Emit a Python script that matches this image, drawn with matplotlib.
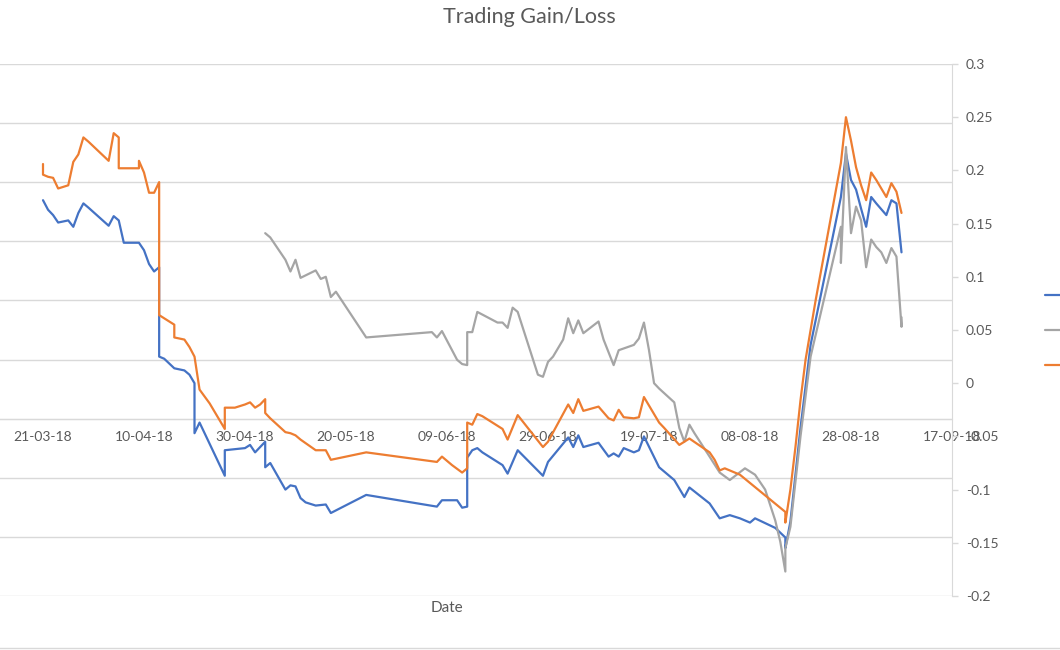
import matplotlib
matplotlib.use("Agg")
import matplotlib.pyplot as plt
import matplotlib.dates as mdates
from matplotlib.lines import Line2D
from matplotlib.ticker import FuncFormatter
import pandas as pd

plt.rcParams["font.family"] = ["Lato", "DejaVu Sans"]

# --- data (secondary / right axis values) ---
blue_dates = [
	"2018-03-21", "2018-03-22", "2018-03-23", "2018-03-24", "2018-03-26", "2018-03-27", "2018-03-28",
	"2018-03-29", "2018-03-30", "2018-04-03", "2018-04-04", "2018-04-05", "2018-04-06", "2018-04-09",
	"2018-04-10", "2018-04-11", "2018-04-12", "2018-04-13", "2018-04-13", "2018-04-14", "2018-04-16",
	"2018-04-18", "2018-04-19", "2018-04-20", "2018-04-20", "2018-04-21", "2018-04-26", "2018-04-26",
	"2018-04-30", "2018-05-01", "2018-05-02", "2018-05-03", "2018-05-04", "2018-05-04", "2018-05-05",
	"2018-05-08", "2018-05-09", "2018-05-10", "2018-05-11", "2018-05-12", "2018-05-14", "2018-05-16",
	"2018-05-17", "2018-05-24", "2018-06-07", "2018-06-08", "2018-06-11", "2018-06-12", "2018-06-13",
	"2018-06-13", "2018-06-14", "2018-06-15", "2018-06-16", "2018-06-20", "2018-06-21", "2018-06-23",
	"2018-06-28", "2018-06-29", "2018-07-03", "2018-07-04", "2018-07-05", "2018-07-06", "2018-07-09",
	"2018-07-11", "2018-07-12", "2018-07-13", "2018-07-14", "2018-07-16", "2018-07-17", "2018-07-18",
	"2018-07-21", "2018-07-24", "2018-07-26", "2018-07-27", "2018-07-31", "2018-08-02", "2018-08-04",
	"2018-08-06", "2018-08-08", "2018-08-09", "2018-08-13", "2018-08-15", "2018-08-15", "2018-08-16",
	"2018-08-18", "2018-08-20", "2018-08-26", "2018-08-27", "2018-08-28", "2018-08-29", "2018-08-30",
	"2018-08-31", "2018-09-01", "2018-09-02", "2018-09-04", "2018-09-05", "2018-09-06", "2018-09-07",
]
blue_values = [
	0.172, 0.163, 0.158, 0.151, 0.153, 0.147, 0.160,
	0.169, 0.165, 0.148, 0.157, 0.153, 0.132, 0.132,
	0.125, 0.112, 0.105, 0.109, 0.025, 0.023, 0.014,
	0.012, 0.008, 0.000, -0.047, -0.037, -0.087, -0.063,
	-0.061, -0.058, -0.065, -0.060, -0.055, -0.079, -0.075,
	-0.100, -0.096, -0.097, -0.108, -0.112, -0.115, -0.114,
	-0.122, -0.105, -0.116, -0.110, -0.110, -0.117, -0.116,
	-0.070, -0.063, -0.061, -0.065, -0.077, -0.085, -0.063,
	-0.087, -0.074, -0.051, -0.060, -0.049, -0.060, -0.056,
	-0.069, -0.066, -0.069, -0.061, -0.065, -0.063, -0.050,
	-0.079, -0.091, -0.107, -0.098, -0.113, -0.127, -0.124,
	-0.127, -0.131, -0.127, -0.136, -0.145, -0.155, -0.130,
	-0.042, 0.036, 0.175, 0.216, 0.191, 0.182, 0.164,
	0.147, 0.175, 0.169, 0.158, 0.172, 0.169, 0.123,
]

gray_dates = [
	"2018-05-04", "2018-05-05", "2018-05-08", "2018-05-09", "2018-05-10", "2018-05-11", "2018-05-14",
	"2018-05-15", "2018-05-16", "2018-05-17", "2018-05-18", "2018-05-24", "2018-06-06", "2018-06-07",
	"2018-06-08", "2018-06-11", "2018-06-12", "2018-06-13", "2018-06-13", "2018-06-14", "2018-06-15",
	"2018-06-19", "2018-06-20", "2018-06-21", "2018-06-22", "2018-06-23", "2018-06-27", "2018-06-28",
	"2018-06-29", "2018-06-30", "2018-07-02", "2018-07-03", "2018-07-04", "2018-07-05", "2018-07-06",
	"2018-07-09", "2018-07-10", "2018-07-11", "2018-07-12", "2018-07-13", "2018-07-16", "2018-07-17",
	"2018-07-18", "2018-07-19", "2018-07-20", "2018-07-21", "2018-07-24", "2018-07-25", "2018-07-26",
	"2018-07-27", "2018-07-28", "2018-07-31", "2018-08-02", "2018-08-04", "2018-08-07", "2018-08-09",
	"2018-08-11", "2018-08-13", "2018-08-14", "2018-08-15", "2018-08-15", "2018-08-16", "2018-08-18",
	"2018-08-20", "2018-08-26", "2018-08-26", "2018-08-27", "2018-08-28", "2018-08-29", "2018-08-30",
	"2018-08-31", "2018-09-01", "2018-09-02", "2018-09-03", "2018-09-04", "2018-09-05", "2018-09-06",
	"2018-09-07", "2018-09-07",
]
gray_values = [
	0.141, 0.137, 0.116, 0.105, 0.116, 0.099, 0.106,
	0.098, 0.100, 0.081, 0.086, 0.043, 0.048, 0.043,
	0.049, 0.022, 0.018, 0.017, 0.048, 0.048, 0.067,
	0.057, 0.057, 0.052, 0.071, 0.067, 0.008, 0.006,
	0.020, 0.025, 0.041, 0.061, 0.047, 0.059, 0.047,
	0.058, 0.041, 0.029, 0.017, 0.031, 0.036, 0.042,
	0.057, 0.031, 0.000, -0.005, -0.018, -0.042, -0.055,
	-0.039, -0.047, -0.069, -0.084, -0.091, -0.080, -0.086,
	-0.100, -0.129, -0.149, -0.177, -0.155, -0.135, -0.050,
	0.025, 0.147, 0.113, 0.222, 0.141, 0.166, 0.153,
	0.109, 0.135, 0.128, 0.123, 0.113, 0.127, 0.119,
	0.053, 0.062,
]

orange_dates = [
	"2018-03-21", "2018-03-21", "2018-03-22", "2018-03-23", "2018-03-24", "2018-03-26", "2018-03-27",
	"2018-03-28", "2018-03-29", "2018-03-30", "2018-04-03", "2018-04-04", "2018-04-05", "2018-04-05",
	"2018-04-09", "2018-04-09", "2018-04-10", "2018-04-11", "2018-04-12", "2018-04-13", "2018-04-13",
	"2018-04-16", "2018-04-16", "2018-04-18", "2018-04-19", "2018-04-20", "2018-04-21", "2018-04-23",
	"2018-04-26", "2018-04-26", "2018-04-28", "2018-04-30", "2018-05-01", "2018-05-02", "2018-05-03",
	"2018-05-04", "2018-05-04", "2018-05-05", "2018-05-08", "2018-05-09", "2018-05-10", "2018-05-11",
	"2018-05-14", "2018-05-16", "2018-05-17", "2018-05-24", "2018-06-07", "2018-06-08", "2018-06-10",
	"2018-06-12", "2018-06-13", "2018-06-13", "2018-06-14", "2018-06-15", "2018-06-16", "2018-06-20",
	"2018-06-21", "2018-06-23", "2018-06-28", "2018-06-29", "2018-07-03", "2018-07-04", "2018-07-05",
	"2018-07-06", "2018-07-09", "2018-07-11", "2018-07-12", "2018-07-13", "2018-07-14", "2018-07-16",
	"2018-07-17", "2018-07-18", "2018-07-21", "2018-07-22", "2018-07-25", "2018-07-27", "2018-07-31",
	"2018-08-01", "2018-08-02", "2018-08-03", "2018-08-06", "2018-08-15", "2018-08-15", "2018-08-16",
	"2018-08-17", "2018-08-18", "2018-08-19", "2018-08-21", "2018-08-26", "2018-08-27", "2018-08-28",
	"2018-08-29", "2018-08-30", "2018-08-31", "2018-09-01", "2018-09-02", "2018-09-04", "2018-09-05",
	"2018-09-06", "2018-09-07",
]
orange_values = [
	0.206, 0.196, 0.194, 0.193, 0.183, 0.186, 0.208,
	0.215, 0.231, 0.227, 0.209, 0.235, 0.231, 0.202,
	0.202, 0.209, 0.198, 0.179, 0.179, 0.189, 0.064,
	0.055, 0.043, 0.041, 0.034, 0.025, -0.006, -0.019,
	-0.043, -0.023, -0.023, -0.020, -0.018, -0.023, -0.020,
	-0.015, -0.028, -0.033, -0.046, -0.047, -0.049, -0.053,
	-0.063, -0.063, -0.072, -0.065, -0.074, -0.069, -0.077,
	-0.084, -0.080, -0.037, -0.039, -0.029, -0.031, -0.043,
	-0.053, -0.030, -0.060, -0.055, -0.020, -0.028, -0.015,
	-0.026, -0.022, -0.033, -0.035, -0.025, -0.032, -0.033,
	-0.032, -0.013, -0.037, -0.042, -0.058, -0.052, -0.065,
	-0.072, -0.082, -0.080, -0.086, -0.121, -0.131, -0.100,
	-0.060, -0.016, 0.022, 0.078, 0.207, 0.250, 0.228,
	0.203, 0.186, 0.172, 0.198, 0.191, 0.175, 0.188,
	0.180, 0.160,
]

x_start = "2018-03-01"
x_end = "2018-09-17"
first_label = "2018-03-21"
right_ticks = [-0.2, -0.15, -0.1, -0.05, 0, 0.05, 0.1, 0.15, 0.2, 0.25, 0.3]
left_ticks = [-3, -2, -1, 0, 1, 2, 3, 4, 5, 6]

grid_col = "#D9D9D9"
text_col = "#595959"

fig = plt.figure(figsize=(10.6, 6.5), dpi=100)
# plot area runs past the left edge (the chart was cropped there)
ax = fig.add_axes([-58 / 1060, 54 / 650, 1010 / 1060, 532 / 650])
ax.set_xlim(pd.Timestamp(x_start), pd.Timestamp(x_end))
ax.set_ylim(left_ticks[0], left_ticks[-1])
ax.set_yticks(left_ticks)
ax.yaxis.grid(True, color=grid_col, linewidth=1.0)
ax.tick_params(axis="y", left=False, labelleft=False)
for side in ["top", "left", "right"]:
	ax.spines[side].set_visible(False)
ax.spines["bottom"].set_position(("data", 0))
ax.spines["bottom"].set_color(grid_col)
ax.set_xticks(pd.date_range(first_label, x_end, freq="20D"))
ax.xaxis.set_major_formatter(mdates.DateFormatter("%d-%m-%y"))
ax.tick_params(axis="x", length=0, pad=9, labelsize=10, labelcolor=text_col)
ax.set_xlabel("Date", fontsize=11, color=text_col)
ax.xaxis.set_label_coords(0.5, -0.01)

ax2 = ax.twinx()
ax2.set_ylim(right_ticks[0], right_ticks[-1])
ax2.set_yticks(right_ticks)
ax2.yaxis.set_major_formatter(FuncFormatter(lambda v, p: "0" if abs(v) < 1e-9 else f"{round(v, 2):g}"))
for side in ["top", "left", "bottom"]:
	ax2.spines[side].set_visible(False)
ax2.spines["right"].set_color(grid_col)
ax2.tick_params(axis="y", direction="out", length=4, width=1, color=grid_col,
	labelcolor=text_col, labelsize=10, pad=6)

series = [
	(blue_dates, blue_values, "#4472C4"),
	(gray_dates, gray_values, "#A5A5A5"),
	(orange_dates, orange_values, "#ED7D31"),
]
handles = []
for dates, values, col in series:
	line, = ax2.plot(pd.to_datetime(dates), values, color=col, linewidth=1.6,
		solid_joinstyle="round", solid_capstyle="round")
	handles.append(line)

fig.legend(handles, ["", "", ""], loc="center left", bbox_to_anchor=(1045 / 1060, 1 - 331 / 650),
	frameon=False, borderpad=0, borderaxespad=0, handlelength=2.5, labelspacing=1.65, fontsize=10)

fig.text(529 / 1060, 1 - 17 / 650, "Trading Gain/Loss", ha="center", va="center",
	fontsize=15.5, color=text_col)

# outer chart border, only its bottom edge is in frame
fig.add_artist(Line2D([0, 1], [2 / 650, 2 / 650], color=grid_col, linewidth=1.0))

fig.savefig("out.png", dpi=100)
